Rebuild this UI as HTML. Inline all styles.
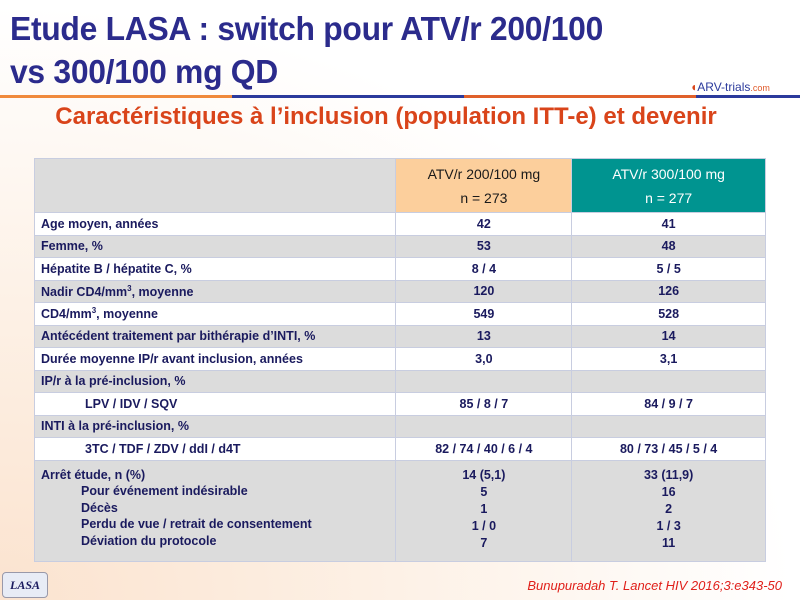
<!DOCTYPE html>
<html><head><meta charset="utf-8"><style>
body{margin:0;width:800px;height:600px;overflow:hidden;font-family:"Liberation Sans",sans-serif;background:#fff;position:relative}
.bg{position:absolute;left:0;top:0;width:800px;height:600px;background:radial-gradient(ellipse at 0% 100%,#fbe3cf 0%,#fdf1e6 35%,#fff 70%)}
.t{position:absolute;left:10px;font-weight:bold;color:#2b2b8c;font-size:33px;letter-spacing:-0.3px;transform:scaleX(0.965);transform-origin:left}
.line{position:absolute;left:0;top:95px;width:800px;height:3px;background:linear-gradient(90deg,#f08a3c 0 29%,#2b3a9c 29% 58%,#e0602a 58% 87%,#2b3a9c 87%)}
.sub{position:absolute;left:-14px;width:800px;top:103px;text-align:center;color:#d9441a;font-weight:bold;font-size:24px}
table{position:absolute;left:34px;top:158px;width:732px;border-collapse:collapse;font-size:12.5px;font-weight:bold;color:#1a1a5e}
td{border:1px solid #c8cde0;padding:0 6px;height:21.5px}
td.v{text-align:center}
tr.g td{background:#dcdcdc}
tr.w td{background:#fff}
.ind{padding-left:50px}
</style></head><body>
<div class="bg"></div>
<div class="t" style="top:10px">Etude LASA : switch pour ATV/r 200/100</div>
<div class="t" style="top:53px">vs 300/100 mg QD</div>
<div style="position:absolute;left:690px;top:80px;font-size:12px;color:#d9441a">◖<span style="color:#2b3a9c">ARV-trials</span><span style="font-size:9px;color:#e05a2a">.com</span></div>
<div class="line"></div>
<div class="sub">Caractéristiques à l’inclusion (population ITT-e) et devenir</div>
<table>
<col style="width:362px"><col style="width:176px"><col style="width:194px">
<tr><td style="background:#dcdcdc;height:53px"></td><td class="v" style="background:#fccf9c;color:#1a1a1a;font-weight:normal;font-size:14px;line-height:24px">ATV/r 200/100 mg<br>n = 273</td><td class="v" style="background:#009490;color:#fff;font-weight:normal;font-size:14px;line-height:24px">ATV/r 300/100 mg<br>n = 277</td></tr>
<tr class="w"><td>Age moyen, années</td><td class="v">42</td><td class="v">41</td></tr>
<tr class="g"><td>Femme, %</td><td class="v">53</td><td class="v">48</td></tr>
<tr class="w"><td>Hépatite B / hépatite C, %</td><td class="v">8 / 4</td><td class="v">5 / 5</td></tr>
<tr class="g"><td>Nadir CD4/mm<sup style="font-size:8px">3</sup>, moyenne</td><td class="v">120</td><td class="v">126</td></tr>
<tr class="w"><td>CD4/mm<sup style="font-size:8px">3</sup>, moyenne</td><td class="v">549</td><td class="v">528</td></tr>
<tr class="g"><td>Antécédent traitement par bithérapie d’INTI, %</td><td class="v">13</td><td class="v">14</td></tr>
<tr class="w"><td>Durée moyenne IP/r avant inclusion, années</td><td class="v">3,0</td><td class="v">3,1</td></tr>
<tr class="g"><td>IP/r à la pré-inclusion, %</td><td></td><td></td></tr>
<tr class="w"><td class="ind">LPV / IDV / SQV</td><td class="v">85 / 8 / 7</td><td class="v">84 / 9 / 7</td></tr>
<tr class="g"><td>INTI à la pré-inclusion, %</td><td></td><td></td></tr>
<tr class="w"><td class="ind">3TC / TDF / ZDV / ddI / d4T</td><td class="v">82 / 74 / 40 / 6 / 4</td><td class="v">80 / 73 / 45 / 5 / 4</td></tr>
<tr class="g"><td style="height:94px;line-height:16.5px;vertical-align:top;padding-top:6px">Arrêt étude, n (%)<br><span style="padding-left:40px">Pour événement indésirable</span><br><span style="padding-left:40px">Décès</span><br><span style="padding-left:40px">Perdu de vue / retrait de consentement</span><br><span style="padding-left:40px">Déviation du protocole</span></td>
<td class="v" style="vertical-align:top;padding-top:6px;line-height:17px">14 (5,1)<br>5<br>1<br>1 / 0<br>7</td>
<td class="v" style="vertical-align:top;padding-top:6px;line-height:17px">33 (11,9)<br>16<br>2<br>1 / 3<br>11</td></tr>
</table>
<div style="position:absolute;left:2px;top:572px;width:44px;height:24px;border:1px solid #99a;border-radius:4px;background:#e8ecf6;font-family:'Liberation Serif',serif;font-style:italic;font-weight:bold;font-size:12px;color:#1a1a5e;text-align:center;line-height:24px">LASA</div>
<div style="position:absolute;right:18px;top:578px;font-style:italic;font-size:13px;color:#e0201a">Bunupuradah T. Lancet HIV 2016;3:e343-50</div>
</body></html>
